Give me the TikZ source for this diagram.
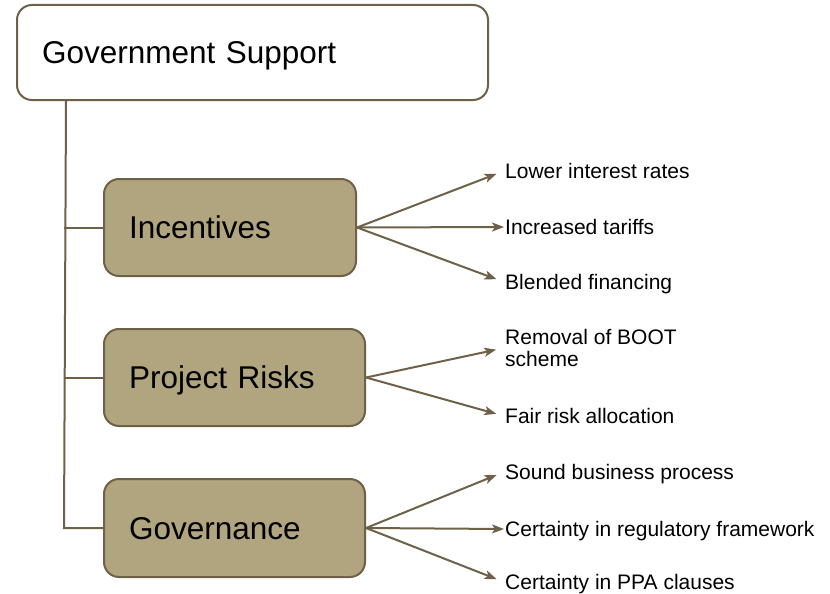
\documentclass[tikz,border=0pt]{standalone}
\usepackage{fontspec}
\setmainfont{Liberation Sans}
\usetikzlibrary{arrows.meta}
\definecolor{GSedge}{HTML}{6E6148}
\definecolor{GSfill}{HTML}{B0A57E}

\begin{document}
\begin{tikzpicture}[x=1pt,y=-1pt,
  box/.style={draw=GSedge,line width=2pt,rounded corners=15pt,align=left,inner xsep=25pt,
    font=\fontsize{31.5}{36}\selectfont,text height=22.5pt,text depth=0pt},
  mainbox/.style={box,fill=white,minimum height=95pt,text width=421pt},
  subbox/.style={box,fill=GSfill,minimum height=97pt},
  leaf/.style={anchor=west,inner xsep=1pt,inner ysep=0pt,align=left,font=\fontsize{21}{22}\selectfont},
  oneline/.style={leaf,text height=15pt,text depth=0pt},
  link/.style={draw=GSedge,line width=2pt},
  fan/.style={link,-{Stealth[length=12pt,width=9pt,inset=3pt]}},
  slant/.style={fan,shorten >=8pt}]
  \useasboundingbox (0,0) rectangle (830,594);

  \node[mainbox] (top) at (252.5,52.5) {Government Support};
  \node[subbox,text width=202pt] (incent) at (230,227.5) {Incentives};
  \node[subbox,text width=211pt] (risks) at (234.5,377.5) {Project Risks};
  \node[subbox,text width=211pt,minimum height=98pt] (govern) at (234.5,528) {Governance};

  % leaves
  \node[oneline] (lower) at (504,171) {Lower interest rates};
  \node[oneline] (tariff) at (504,227) {Increased tariffs};
  \node[oneline] (blend) at (504,282) {Blended financing};
  \node[leaf] (boot) at (504,348) {Removal of BOOT\\scheme};
  \node[oneline] (fair) at (504,416) {Fair risk allocation};
  \node[oneline] (sound) at (504,472) {Sound business process};
  \node[oneline] (regul) at (504,529) {Certainty in regulatory framework};
  \node[oneline] (ppa) at (504,582) {Certainty in PPA clauses};

  % trunk and ticks
  \coordinate (trunk) at ([xshift=50pt]top.south west);
  \coordinate (foot) at (64,528);
  \draw[link] (trunk) -- (foot) -- (govern.west);
  \draw[link] (incent.west -| foot) -- (incent.west);
  \draw[link] (risks.west -| foot) -- (risks.west);

  \draw[slant] (incent.east) -- (lower.west);
  \draw[fan] (incent.east) -- (tariff.west);
  \draw[slant] (incent.east) -- (blend.west);
  \draw[slant] (risks.east) -- (boot.west);
  \draw[slant] (risks.east) -- (fair.west);
  \draw[slant] (govern.east) -- (sound.west);
  \draw[fan] (govern.east) -- (regul.west);
  \draw[slant] (govern.east) -- (ppa.west);
\end{tikzpicture}
\end{document}
